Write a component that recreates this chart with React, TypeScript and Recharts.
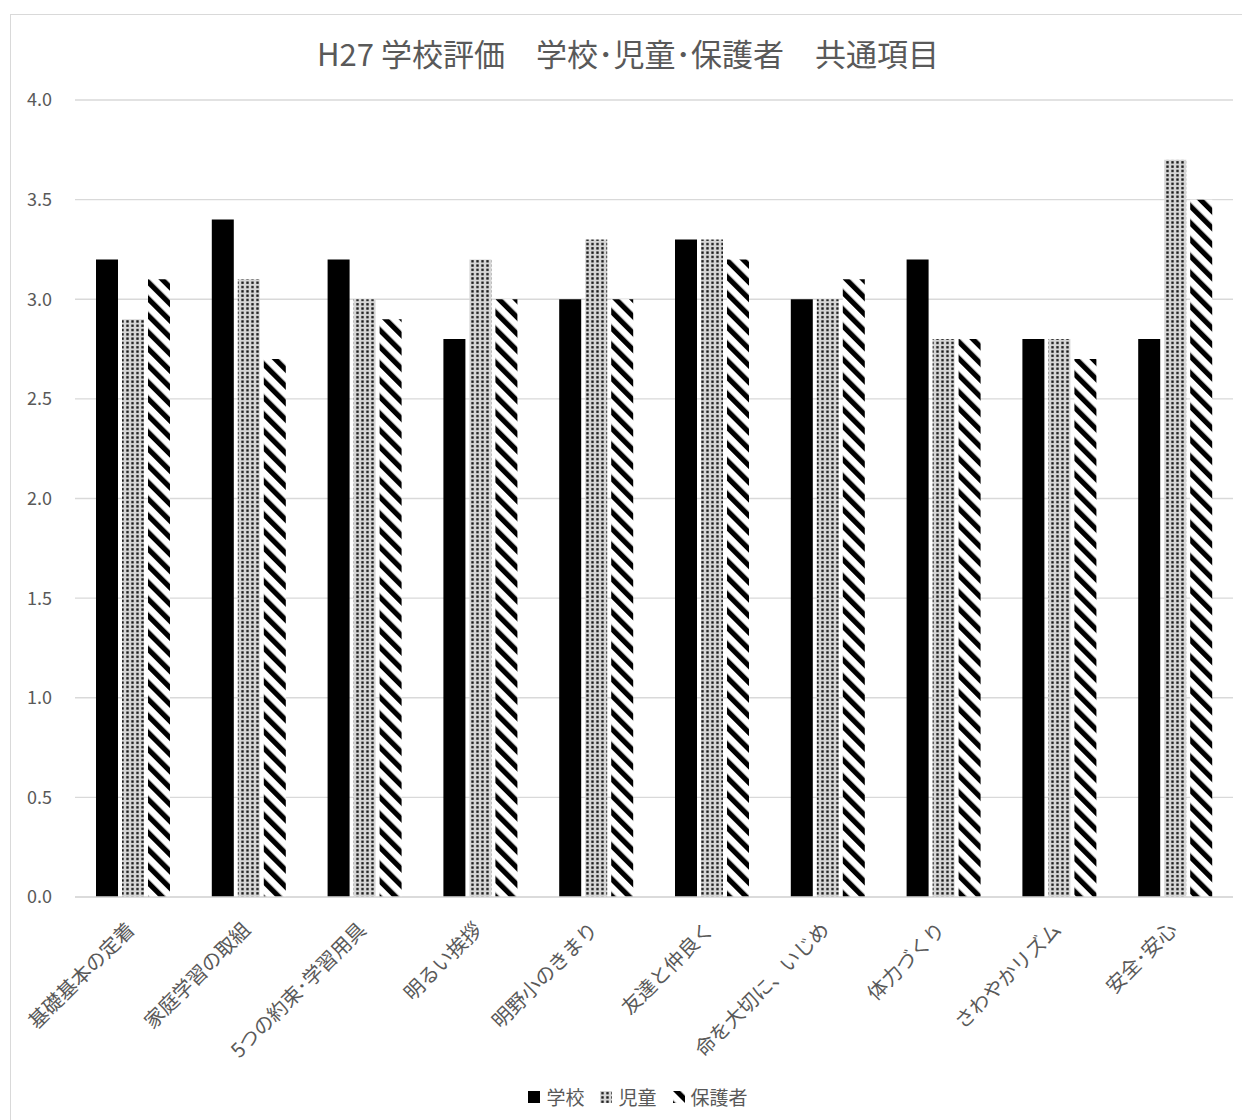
import React from 'react';
import { BarChart, Bar, XAxis, YAxis, CartesianGrid } from 'recharts';

const categories = [
  '基礎基本の定着',
  '家庭学習の取組',
  '5つの約束･学習用具',
  '明るい挨拶',
  '明野小のきまり',
  '友達と仲良く',
  '命を大切に、いじめ',
  '体力づくり',
  'さわやかリズム',
  '安全･安心',
];
const schoolValues = [3.2, 3.4, 3.2, 2.8, 3.0, 3.3, 3.0, 3.2, 2.8, 2.8];
const childValues = [2.9, 3.1, 3.0, 3.2, 3.3, 3.3, 3.0, 2.8, 2.8, 3.7];
const parentValues = [3.1, 2.7, 2.9, 3.0, 3.0, 3.2, 3.1, 2.8, 2.7, 3.5];
const seriesNames = ['学校', '児童', '保護者'];
const yTicks = [0, 0.5, 1.0, 1.5, 2.0, 2.5, 3.0, 3.5, 4.0];
const titleText = 'H27 学校評価　学校･児童･保護者　共通項目';

const data = categories.map((c, i) => ({
  name: c,
  school: schoolValues[i],
  child: childValues[i],
  parent: parentValues[i],
}));

const FONT = '"Noto Sans CJK JP", "Noto Sans", sans-serif';
const TEXT = '#595959';

const Patterns = () => (
  <defs>
    <pattern id="dots" width="5" height="4.3" patternUnits="userSpaceOnUse">
      <rect width="5" height="4.3" fill="#d6d6d6" />
      <rect x="1.3" y="1" width="2.4" height="2.3" fill="#1a1a1a" />
    </pattern>
    <pattern
      id="stripes"
      width="11.8"
      height="11.8"
      patternUnits="userSpaceOnUse"
      patternTransform="rotate(-45)"
    >
      <rect width="11.8" height="11.8" fill="#ffffff" />
      <rect width="5.2" height="11.8" fill="#000000" />
    </pattern>
  </defs>
);

const XTick = (props: any) => {
  const { x, y, payload } = props;
  return (
    <g transform={`translate(${x - 3},${y + 20})`}>
      <text
        transform="rotate(-45)"
        textAnchor="end"
        dominantBaseline="central"
        fill={TEXT}
        fontSize={20}
        fontFamily={FONT}
      >
        {payload.value}
      </text>
    </g>
  );
};

const legendFills = ['#000000', 'url(#dots)', 'url(#stripes)'];

export default function App() {
  return (
    <div style={{ position: 'relative', width: 1242, height: 1112, overflow: 'hidden' }}>
      <div
        style={{
          position: 'absolute',
          left: 2,
          top: 6,
          width: 1240,
          height: 1106,
          borderTop: '1.5px solid #d9d9d9',
          borderLeft: '1.5px solid #d9d9d9',
          boxSizing: 'border-box',
          background: '#fff',
        }}
      />
      <div
        style={{
          position: 'absolute',
          left: 0,
          top: 22,
          width: 1240,
          textAlign: 'center',
          fontFamily: FONT,
          fontSize: 31,
          color: TEXT,
          whiteSpace: 'pre',
        }}
      >
        {titleText}
      </div>
      <div style={{ position: 'absolute', left: 2, top: 6 }}>
        <BarChart
          width={1240}
          height={1106}
          data={data}
          margin={{ top: 86, right: 17, left: 0, bottom: 0 }}
          barCategoryGap={21}
          barGap={4}
        >
          <Patterns />
          <CartesianGrid vertical={false} stroke="#d9d9d9" strokeWidth={1.3} />
          <XAxis
            dataKey="name"
            height={223}
            interval={0}
            tick={<XTick />}
            tickLine={false}
            axisLine={{ stroke: '#d9d9d9', strokeWidth: 1.3 }}
          />
          <YAxis
            width={65}
            domain={[0, 4]}
            ticks={yTicks}
            tickFormatter={(v: number) => v.toFixed(1)}
            axisLine={false}
            tickLine={false}
            tickSize={0}
            tickMargin={23}
            tick={{ fill: TEXT, fontSize: 18, fontFamily: FONT }}
          />
          <Bar dataKey="school" name={seriesNames[0]} fill="#000000" isAnimationActive={false} />
          <Bar dataKey="child" name={seriesNames[1]} fill="url(#dots)" isAnimationActive={false} />
          <Bar dataKey="parent" name={seriesNames[2]} fill="url(#stripes)" isAnimationActive={false} />
        </BarChart>
      </div>
      <div
        style={{
          position: 'absolute',
          left: 0,
          top: 1075,
          width: 1276,
          display: 'flex',
          justifyContent: 'center',
          alignItems: 'center',
          fontFamily: FONT,
          fontSize: 19,
          color: TEXT,
        }}
      >
        {seriesNames.map((n, i) => (
          <div key={n} style={{ display: 'flex', alignItems: 'center', marginRight: 16 }}>
            <svg width={12} height={12} style={{ marginRight: 6 }}>
              <Patterns />
              <rect width={12} height={12} fill={legendFills[i]} />
            </svg>
            <span>{n}</span>
          </div>
        ))}
      </div>
    </div>
  );
}
